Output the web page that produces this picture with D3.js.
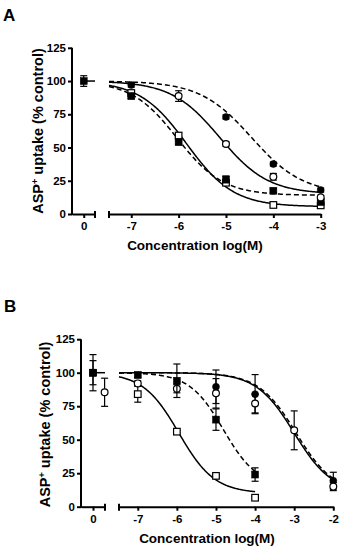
<!DOCTYPE html>
<html><head><meta charset="utf-8">
<script src="https://cdn.jsdelivr.net/npm/d3@7"></script>
<style>body{margin:0;background:#fff}svg{display:block}text{font-family:"Liberation Sans",Arial,sans-serif;font-weight:bold;fill:#000}</style>
</head><body><svg id="c" width="341" height="550"></svg>
<script>
// ---------- DATA ----------
// Panel A
const concA = [-7, -6, -5, -4, -3];
const concFCircA = [-7, -5, -4, -3];
const fCircA = [97, 73, 37.6, 18];
const fCircAsem = [1.5, 1.5, 1.5, 1.5];
const concOCircA = [-6, -5, -4, -3];
const oCircA = [88.7, 52.6, 28, 12.5];
const oCircAsem = [4, 1.5, 2.5, 1.5];
const fSqA = [88.7, 54, 26, 17.5, 9];
const fSqAsem = [2, 1.5, 2.5, 1.5, 1.5];
const oSqA = [91, 59, 23.5, 6.8, 6.5];
const oSqAsem = [1, 2, 1, 1, 1];
const ctrlA = [100];
const ctrlAsem = [4];
// fitted curves A: [top, bottom, logIC50, hill]
const fitFCircA = [100, 15, -4.46, 0.8];
const fitOCircA = [100, 15, -5.13, 0.85];
const fitFSqA = [100, 14, -6.03, 0.9];
const fitOSqA = [100, 5.5, -5.83, 0.88];

// Panel B
const concB6 = [-7, -6, -5, -4, -3, -2];
const concB4 = [-7, -6, -5, -4];
const concFCircB = [-5, -4, -2];
const fCircB = [89.5, 84, 19.4];
const fCircBsem = [12.5, 14.6, 6.3];
const oCircB = [92, 88, 84.6, 77, 57, 15];
const oCircBsem = [2, 3, 11, 7, 14.5, 3];
const fSqB = [98.3, 94, 65, 24];
const fSqBsem = [2, 12.5, 8, 5];
const oSqB = [84, 56, 23, 6.7];
const oSqBsem = [6, 1, 1, 1];
const ctrlB = [100];
const ctrlBsem = [9];
const ctrlB2 = [100];
const ctrlB2sem = [13.5];
const ctrlOCircB = [85.4];
const ctrlOCircBsem = [10.5];
const fitFCircB = [100, 10, -2.95, 0.9];
const fitOCircB = [100, 10, -3.0, 0.9];
const fitFSqB = [100, 15, -4.81, 1.0];
const fitOSqB = [100, 10, -5.95, 0.95];

const yTicks = [0, 25, 50, 75, 100, 125];
const xTicksA = [-7, -6, -5, -4, -3];
const xTicksB = [-7, -6, -5, -4, -3, -2];
const xTitle = "Concentration log(M)";

// ---------- DRAW ----------
const svg = d3.select("#c");
const logistic = (p) => (x) => p[1] + (p[0] - p[1]) / (1 + Math.pow(10, p[3] * (x - p[2])));
const fmt = d => String(d);
const FONT = '"Liberation Sans",Arial,sans-serif';

function panel(cfg) {
  const g = svg.append("g");
  const y = d3.scaleLinear().domain([0, 125]).range([cfg.y0, cfg.y125]);
  const x1 = d3.scaleLinear().domain(cfg.d1).range(cfg.r1);
  const x2 = d3.scaleLinear().domain(cfg.d2).range(cfg.r2);

  g.append("text").attr("x", cfg.labX).attr("y", cfg.labY).attr("font-size", 17).text(cfg.label);

  const ya = g.append("g").attr("transform", `translate(${cfg.r1[0]},0)`)
    .call(d3.axisLeft(y).tickValues(yTicks).tickFormat(fmt).tickSize(4).tickPadding(2).tickSizeOuter(0));
  ya.select(".domain").attr("stroke-width", 2).attr("d", `M0,${cfg.y0 + 1}V${cfg.y125}`);
  ya.selectAll(".tick line").attr("stroke-width", 2);
  ya.selectAll(".tick text").attr("font-size", 11.5).attr("font-family", FONT).attr("font-weight", "bold");

  const xa1 = g.append("g").attr("transform", `translate(0,${cfg.y0})`)
    .call(d3.axisBottom(x1).tickValues([0]).tickFormat(fmt).tickSize(4).tickPadding(4).tickSizeOuter(0));
  xa1.select(".domain").attr("stroke-width", 2);
  const xa2 = g.append("g").attr("transform", `translate(0,${cfg.y0})`)
    .call(d3.axisBottom(x2).tickValues(cfg.xt).tickFormat(fmt).tickSize(4).tickPadding(4).tickSizeOuter(0));
  xa2.select(".domain").attr("stroke-width", 2);
  [xa1, xa2].forEach(a => {
    a.selectAll(".tick line").attr("stroke-width", 2);
    a.selectAll(".tick text").attr("font-size", 11.5).attr("font-family", FONT).attr("font-weight", "bold");
  });
  [cfg.r1[1], cfg.r2[0]].forEach(px => {
    g.append("line").attr("x1", px).attr("x2", px).attr("y1", cfg.y0 - 3).attr("y2", cfg.y0 + 4)
      .attr("stroke", "#000").attr("stroke-width", 2);
  });

  g.append("text").attr("x", cfg.xtX).attr("y", cfg.xtY).attr("text-anchor", "middle")
    .attr("font-size", 13.5).text(xTitle);
  const yt = g.append("text").attr("transform", `translate(${cfg.ytX},${cfg.ytY}) rotate(-90)`)
    .attr("text-anchor", "middle").attr("font-size", 14.5);
  yt.append("tspan").text("ASP");
  yt.append("tspan").attr("font-size", 9).attr("dy", -5).text("+");
  yt.append("tspan").attr("dy", 5).text(" uptake (% control)");

  g.append("line").attr("x1", x1(0)).attr("x2", cfg.r1[1]).attr("y1", y(100)).attr("y2", y(100))
    .attr("stroke", "#000").attr("stroke-width", 1.5);

  cfg.curves.forEach(c => {
    const f = logistic(c.p);
    const xs = d3.range(cfg.d2[0], c.end + 1e-9, 0.02);
    g.append("path").datum(xs)
      .attr("d", d3.line().x(d => x2(d)).y(d => y(f(d))))
      .attr("fill", "none").attr("stroke", "#000").attr("stroke-width", 1.5)
      .attr("stroke-dasharray", c.dash ? "5,3" : null);
  });

  function drawSeries(xs, vals, sems, shape, filled, sc) {
    const sg = g.append("g");
    xs.forEach((xv, i) => {
      const px = sc(xv);
      const lo = y(vals[i] - sems[i]), hi = y(vals[i] + sems[i]);
      sg.append("line").attr("x1", px).attr("x2", px).attr("y1", lo).attr("y2", hi).attr("stroke", "#000").attr("stroke-width", 1.2);
      [lo, hi].forEach(yy => sg.append("line").attr("x1", px - 3.5).attr("x2", px + 3.5).attr("y1", yy).attr("y2", yy).attr("stroke", "#000").attr("stroke-width", 1.2));
    });
    xs.forEach((xv, i) => {
      const px = sc(xv), py = y(vals[i]);
      if (shape === "circle") {
        sg.append("circle").attr("cx", px).attr("cy", py).attr("r", filled ? 3.5 : 3.4)
          .attr("fill", filled ? "#000" : "#fff").attr("stroke", "#000").attr("stroke-width", filled ? 0.5 : 1.2);
      } else {
        const s = filled ? 7 : 6.6;
        sg.append("rect").attr("x", px - s / 2).attr("y", py - s / 2).attr("width", s).attr("height", s)
          .attr("fill", filled ? "#000" : "#fff").attr("stroke", "#000").attr("stroke-width", filled ? 0.5 : 1.2);
      }
    });
  }
  cfg.series.forEach(s => drawSeries(s.x, s.v, s.e, s.shape, s.filled, s.seg === 1 ? x1 : x2));
}

panel({
  label: "A", labX: 3, labY: 21,
  y0: 214, y125: 47.8,
  d1: [-0.25, 0.24], r1: [72, 95],
  d2: [-7.47, -3], r2: [109, 320.7],
  xt: xTicksA,
  xtX: 195, xtY: 250, ytX: 43, ytY: 131,
  curves: [
    { p: fitOSqA, dash: false, end: -3 },
    { p: fitFSqA, dash: true, end: -3 },
    { p: fitOCircA, dash: false, end: -3 },
    { p: fitFCircA, dash: true, end: -3 }
  ],
  series: [
    { x: concA, v: oSqA, e: oSqAsem, shape: "square", filled: false },
    { x: concA, v: fSqA, e: fSqAsem, shape: "square", filled: true },
    { x: concOCircA, v: oCircA, e: oCircAsem, shape: "circle", filled: false },
    { x: concFCircA, v: fCircA, e: fCircAsem, shape: "circle", filled: true },
    { x: [0], v: ctrlA, e: ctrlAsem, shape: "square", filled: true, seg: 1 }
  ]
});

panel({
  label: "B", labX: 4, labY: 312,
  y0: 506.7, y125: 339.2,
  d1: [-0.31, 0.31], r1: [81, 105],
  d2: [-7.48, -2], r2: [119, 333.3],
  xt: xTicksB,
  xtX: 207, xtY: 543, ytX: 50, ytY: 424.5,
  curves: [
    { p: fitOSqB, dash: false, end: -4 },
    { p: fitFSqB, dash: true, end: -4 },
    { p: fitFCircB, dash: true, end: -2 },
    { p: fitOCircB, dash: false, end: -2 }
  ],
  series: [
    { x: concB4, v: oSqB, e: oSqBsem, shape: "square", filled: false },
    { x: concFCircB, v: fCircB, e: fCircBsem, shape: "circle", filled: true },
    { x: concB6, v: oCircB, e: oCircBsem, shape: "circle", filled: false },
    { x: concB4, v: fSqB, e: fSqBsem, shape: "square", filled: true },
    { x: [0], v: ctrlB2, e: ctrlB2sem, shape: "square", filled: true, seg: 1 },
    { x: [0], v: ctrlB, e: ctrlBsem, shape: "square", filled: true, seg: 1 },
    { x: [0.3], v: ctrlOCircB, e: ctrlOCircBsem, shape: "circle", filled: false, seg: 1 }
  ]
});
</script></body></html>
